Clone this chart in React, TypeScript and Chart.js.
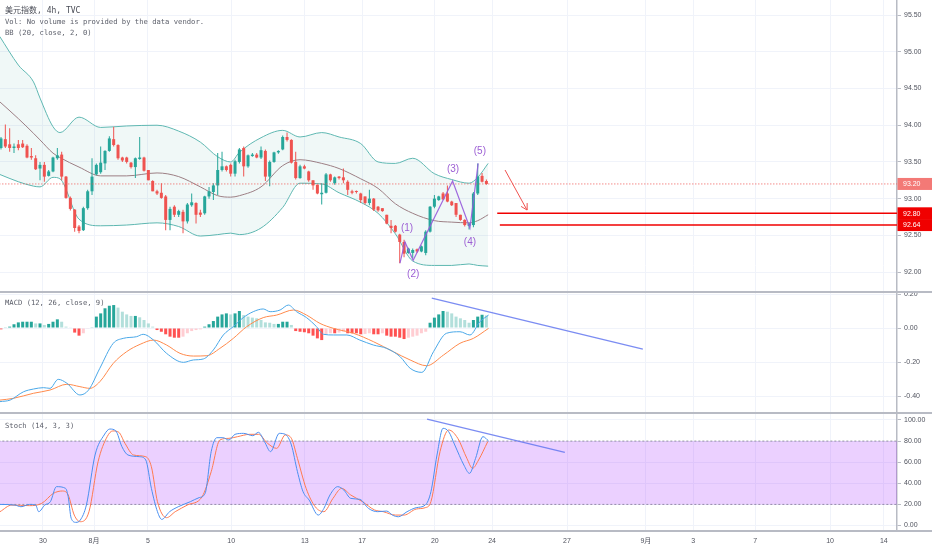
import React, { useEffect, useRef } from 'react';
import { Chart, registerables } from 'chart.js';
Chart.register(...registerables);

// ---------- x axis (bar index units, 4h bars) ----------
const xMin = -0.231;
const xMax = 206.74;
const xTickPos = [9.69, 21.46, 33.9, 53.1, 70.1, 83.3, 100.1, 113.3, 130.6, 148.8, 159.7, 174.0, 191.3, 203.7];
const xTickLabels = ['30', '8月', '5', '10', '13', '17', '20', '24', '27', '9月', '3', '7', '10', '14'];

// ---------- y ticks ----------
const priceTicks = [92, 92.5, 93, 93.5, 94, 94.5, 95, 95.5];
const macdTicks = [-0.4, -0.2, 0, 0.2];
const stochTicks = [0, 20, 40, 60, 80, 100];

// ---------- candles ----------
const opens = [93.69, 93.81, 93.74, 93.69, 93.74, 93.75, 93.72, 93.58, 93.55, 93.41,
  93.46, 93.31, 93.37, 93.55, 93.60, 93.30, 93.01, 92.85, 92.62, 92.57,
  92.87, 93.10, 93.33, 93.36, 93.48, 93.65, 93.81, 93.73, 93.56, 93.56,
  93.49, 93.43, 93.54, 93.56, 93.39, 93.24, 93.10, 93.08, 93.03, 92.71,
  92.89, 92.78, 92.82, 92.69, 92.91, 92.94, 92.81, 92.80, 93.03, 93.09,
  93.18, 93.39, 93.44, 93.46, 93.34, 93.50, 93.69, 93.44, 93.58, 93.60,
  93.56, 93.65, 93.30, 93.50, 93.63, 93.67, 93.84, 93.80, 93.50, 93.28,
  93.44, 93.37, 93.25, 93.19, 93.06, 93.08, 93.33, 93.21, 93.30, 93.29,
  93.23, 93.10, 93.10, 93.07, 93.03, 92.94, 93.00, 92.89, 92.87, 92.78,
  92.63, 92.63, 92.51, 92.41, 92.26, 92.26, 92.31, 92.28, 92.26, 92.55,
  92.89, 92.98, 93.07, 93.07, 92.96, 92.94, 92.78, 92.71, 92.63, 92.64,
  93.07, 93.31, 93.24];
const highs = [93.84, 94.01, 93.96, 93.75, 93.80, 93.80, 93.74, 93.69, 93.59, 93.50,
  93.50, 93.39, 93.57, 93.69, 93.64, 93.31, 93.03, 92.86, 92.64, 92.89,
  93.12, 93.55, 93.48, 93.71, 93.66, 93.85, 93.98, 93.74, 93.57, 93.57,
  93.50, 93.56, 93.84, 93.57, 93.39, 93.25, 93.12, 93.21, 93.05, 92.89,
  92.91, 92.85, 92.85, 92.94, 93.07, 92.95, 92.85, 93.04, 93.16, 93.21,
  93.62, 93.64, 93.45, 93.48, 93.53, 93.69, 93.71, 93.60, 93.62, 93.62,
  93.71, 93.67, 93.52, 93.64, 93.66, 93.86, 93.90, 93.81, 93.64, 93.46,
  93.46, 93.38, 93.25, 93.19, 93.21, 93.35, 93.34, 93.30, 93.31, 93.41,
  93.25, 93.12, 93.11, 93.08, 93.03, 93.12, 93.01, 92.90, 92.87, 92.78,
  92.71, 92.64, 92.52, 92.44, 92.33, 92.32, 92.32, 92.36, 92.57, 92.90,
  93.05, 93.04, 93.09, 93.18, 92.97, 92.94, 92.78, 92.72, 92.67, 93.09,
  93.48, 93.35, 93.26];
const lows = [93.67, 93.69, 93.64, 93.62, 93.66, 93.69, 93.55, 93.53, 93.39, 93.25,
  93.23, 93.30, 93.36, 93.53, 93.25, 93.00, 92.84, 92.55, 92.53, 92.56,
  92.85, 93.05, 93.32, 93.34, 93.39, 93.64, 93.71, 93.53, 93.50, 93.48,
  93.41, 93.28, 93.53, 93.37, 93.25, 93.10, 93.05, 93.00, 92.57, 92.57,
  92.75, 92.75, 92.53, 92.66, 92.89, 92.66, 92.75, 92.78, 93.00, 92.98,
  93.05, 93.37, 93.37, 93.30, 93.30, 93.48, 93.30, 93.42, 93.57, 93.55,
  93.54, 93.24, 93.17, 93.49, 93.61, 93.66, 93.78, 93.48, 93.26, 93.27,
  93.40, 93.23, 93.12, 93.06, 92.92, 93.07, 93.23, 93.19, 93.26, 93.21,
  93.05, 93.06, 93.07, 92.94, 92.92, 92.91, 92.83, 92.82, 92.82, 92.65,
  92.53, 92.54, 92.12, 92.20, 92.25, 92.19, 92.26, 92.27, 92.23, 92.54,
  92.87, 92.97, 92.98, 92.95, 92.90, 92.75, 92.70, 92.62, 92.58, 92.61,
  93.05, 93.22, 93.19];
const closes = [93.82, 93.71, 93.69, 93.71, 93.69, 93.70, 93.56, 93.56, 93.40, 93.46,
  93.30, 93.37, 93.56, 93.59, 93.30, 93.01, 92.86, 92.60, 92.56, 92.87,
  93.10, 93.30, 93.46, 93.49, 93.65, 93.82, 93.73, 93.55, 93.52, 93.50,
  93.43, 93.55, 93.56, 93.38, 93.25, 93.10, 93.07, 93.01, 92.71, 92.86,
  92.78, 92.83, 92.69, 92.92, 92.95, 92.78, 92.78, 93.03, 93.10, 93.18,
  93.39, 93.44, 93.39, 93.34, 93.51, 93.67, 93.44, 93.59, 93.60, 93.56,
  93.66, 93.30, 93.50, 93.63, 93.65, 93.84, 93.80, 93.49, 93.28, 93.44,
  93.41, 93.25, 93.18, 93.07, 93.08, 93.33, 93.25, 93.29, 93.28, 93.25,
  93.12, 93.08, 93.09, 92.98, 92.94, 93.00, 92.85, 92.84, 92.83, 92.66,
  92.60, 92.55, 92.41, 92.25, 92.32, 92.30, 92.28, 92.35, 92.55, 92.89,
  93.00, 93.03, 92.99, 92.96, 92.91, 92.78, 92.71, 92.64, 92.66, 93.07,
  93.30, 93.23, 93.20];

// ---------- Bollinger Bands (20, 2) ----------
const bbIdx = [-0.3, 4, 7.5, 9, 12, 13.6, 18, 23, 29, 36, 41, 46, 50, 53, 55, 60, 65, 69, 74, 78, 83, 87, 91, 95, 100, 104, 108, 110, 112.4];
const bbUpper = [95.21, 94.82, 94.59, 94.37, 93.98, 93.90, 94.11, 93.97, 93.99, 94.00, 93.92, 93.77, 93.57, 93.50, 93.63, 93.83, 93.93, 93.84, 93.90, 93.84, 93.75, 93.50, 93.48, 93.55, 93.34, 93.26, 93.21, 93.29, 93.48];
const bbBasis = [94.32, 94.09, 93.89, 93.80, 93.62, 93.56, 93.43, 93.31, 93.31, 93.35, 93.30, 93.16, 93.04, 93.02, 93.04, 93.16, 93.45, 93.53, 93.48, 93.41, 93.27, 93.14, 92.93, 92.80, 92.70, 92.68, 92.67, 92.70, 92.78];
const bbLower = [93.33, 93.23, 93.17, 93.16, 93.29, 93.27, 92.72, 92.63, 92.64, 92.67, 92.62, 92.49, 92.51, 92.53, 92.51, 92.60, 92.88, 93.21, 93.20, 93.08, 92.95, 92.80, 92.52, 92.15, 92.09, 92.09, 92.11, 92.09, 92.08];

// ---------- MACD (12, 26, 9) ----------
const macdHist = [-0.008, 0.002, 0.008, 0.022, 0.033, 0.037, 0.037, 0.037, 0.027, 0.027,
  0.018, 0.024, 0.037, 0.051, 0.037, 0.008, 0.002, -0.027, -0.045, -0.031,
  -0.004, 0.004, 0.067, 0.086, 0.116, 0.131, 0.135, 0.120, 0.096, 0.080,
  0.071, 0.071, 0.063, 0.047, 0.027, 0.008, -0.012, -0.022, -0.037, -0.051,
  -0.057, -0.057, -0.051, -0.031, -0.018, -0.012, -0.008, 0.008, 0.022, 0.041,
  0.067, 0.080, 0.086, 0.080, 0.086, 0.100, 0.076, 0.067, 0.061, 0.057,
  0.047, 0.033, 0.031, 0.024, 0.024, 0.037, 0.037, 0.018, -0.018, -0.022,
  -0.025, -0.031, -0.045, -0.061, -0.071, -0.037, -0.031, -0.031, -0.027, -0.022,
  -0.031, -0.031, -0.031, -0.037, -0.035, -0.031, -0.037, -0.037, -0.031, -0.045,
  -0.051, -0.051, -0.057, -0.065, -0.057, -0.051, -0.045, -0.031, -0.022, 0.031,
  0.061, 0.080, 0.100, 0.096, 0.086, 0.067, 0.057, 0.047, 0.031, 0.047,
  0.067, 0.078, 0.074];
const macdIdx = [-0.23, 2.1, 5.2, 7.5, 9.8, 11.3, 13.2, 15.2, 18.2, 20.2, 22.8, 25.9, 28.2, 31.3, 32.8, 35.2, 38.2, 42.1, 44.4, 46.7, 49.0, 51.3, 53.6, 55.9, 58.2, 60.5, 62.1, 64.4, 66.3, 68.2, 70.5, 72.8, 74.4, 76.7, 79.8, 82.8, 85.9, 89.0, 92.1, 94.4, 97.1, 99.8, 102.8, 105.9, 108.2, 110.5, 112.5];
const macdLine = [-0.433, -0.424, -0.375, -0.359, -0.351, -0.355, -0.302, -0.325, -0.394, -0.365, -0.237, -0.090, -0.061, -0.051, -0.037, -0.071, -0.149, -0.202, -0.188, -0.182, -0.129, -0.041, 0.008, 0.061, 0.096, 0.112, 0.096, 0.106, 0.135, 0.096, 0.061, 0.008, -0.037, -0.041, -0.041, -0.071, -0.100, -0.120, -0.169, -0.237, -0.261, -0.139, -0.031, -0.022, -0.041, 0.037, 0.076];
const sigIdx = [-0.23, 2.8, 7.5, 11.3, 15.2, 18.2, 20.5, 22.8, 25.9, 29.0, 32.1, 35.2, 38.2, 41.3, 44.4, 47.5, 50.5, 53.6, 56.7, 60.5, 63.6, 67.5, 70.5, 73.6, 76.7, 81.3, 85.9, 90.5, 94.4, 98.2, 102.1, 105.9, 109.0, 112.5];
const signalLine = [-0.424, -0.414, -0.384, -0.365, -0.331, -0.345, -0.355, -0.316, -0.208, -0.139, -0.096, -0.071, -0.100, -0.149, -0.165, -0.163, -0.120, -0.061, 0.008, 0.061, 0.076, 0.106, 0.076, 0.027, -0.002, -0.031, -0.080, -0.139, -0.188, -0.222, -0.159, -0.090, -0.061, -0.002];

// ---------- Stoch (14, 3, 3) ----------
const kIdx = [-0.23, 3.2, 4.6, 6.6, 8.0, 8.7, 10.1, 11.4, 12.8, 14.9, 15.5, 16.2, 17.3, 18.3, 19.7, 21.7, 23.8, 25.1, 26.5, 27.9, 29.3, 32.0, 33.4, 34.7, 36.1, 37.1, 38.9, 40.9, 43.7, 45.7, 47.1, 48.5, 49.8, 51.2, 52.6, 54.0, 56.0, 58.1, 59.4, 60.8, 62.2, 64.2, 65.6, 67.0, 68.4, 69.7, 71.1, 73.2, 74.5, 75.9, 77.7, 79.1, 80.7, 82.8, 84.8, 86.9, 89.0, 90.3, 91.7, 93.7, 95.8, 97.9, 99.2, 100.6, 102.0, 103.3, 104.7, 106.8, 108.1, 109.5, 111.2, 112.5];
const stochK = [20.0, 19.4, 17.8, 20.0, 19.4, 13.1, 19.4, 22.6, 36.8, 35.2, 27.3, 6.8, 3.0, 5.2, 19.4, 66.8, 85.8, 91.4, 89.6, 74.7, 66.8, 65.2, 62.1, 35.2, 13.1, 5.8, 13.1, 17.8, 22.6, 26.4, 30.5, 70.0, 83.2, 83.2, 81.0, 86.4, 87.3, 85.1, 88.3, 79.4, 70.0, 87.3, 86.4, 76.3, 51.0, 32.0, 24.1, 9.9, 16.2, 28.9, 36.8, 33.6, 25.7, 24.8, 16.2, 13.1, 13.7, 9.9, 8.3, 13.1, 16.9, 19.4, 32.0, 66.8, 92.1, 88.9, 76.3, 57.3, 49.4, 63.6, 84.2, 80.1];
const dIdx = [-0.23, 2.5, 6.6, 9.4, 12.1, 14.2, 15.5, 16.9, 18.3, 20.3, 22.4, 24.5, 25.8, 27.2, 28.6, 30.6, 33.4, 34.7, 36.1, 38.2, 40.2, 43.0, 46.4, 48.5, 50.5, 52.6, 54.6, 57.4, 59.4, 61.5, 63.6, 65.6, 67.0, 68.4, 70.4, 72.5, 74.5, 76.6, 78.6, 80.7, 83.4, 86.2, 88.2, 91.0, 93.0, 95.8, 97.9, 99.2, 101.3, 103.3, 105.4, 107.5, 108.8, 110.2, 112.3];
const stochD = [13.1, 19.4, 18.8, 21.0, 30.5, 32.7, 28.9, 9.9, 3.6, 13.1, 60.5, 84.2, 89.6, 88.3, 77.9, 66.8, 65.2, 55.7, 22.6, 7.4, 13.1, 19.4, 27.3, 51.0, 81.0, 82.6, 84.2, 86.4, 86.4, 77.9, 73.1, 85.8, 82.6, 63.6, 35.2, 17.8, 13.1, 25.7, 35.2, 28.9, 22.6, 14.7, 13.1, 9.9, 9.9, 15.6, 16.9, 22.6, 70.0, 90.5, 82.6, 63.6, 54.2, 62.1, 79.4];
const stochUpper = 80;
const stochLower = 20;

// ---------- drawings ----------
const waveIdx = [92.06, 93.2, 95.1, 104.2, 108.2, 110.1];
const wavePrice = [92.12, 92.41, 92.16, 93.24, 92.60, 93.48];
const waveLabels = ['(1)', '(2)', '(3)', '(4)', '(5)'];
const waveLabelIdx = [93.7, 95.1, 104.3, 108.2, 110.5];
const waveLabelPrice = [92.59, 91.97, 93.40, 92.41, 93.65];
const lastPrice = 93.20;
const targetLevels = [92.80, 92.64];
const targetStartIdx = [114.5, 115.1];
const arrowIdx = [116.3, 121.37];
const arrowPrice = [93.39, 92.845];
const arrowHeadIdx = [120.0, 121.37, 121.4];
const arrowHeadPrice = [92.894, 92.845, 92.94];
const macdTrendIdx = [99.4, 148.1];
const macdTrendVal = [0.176, -0.124];
const stochTrendIdx = [98.3, 130.1];
const stochTrendVal = [100.7, 69.4];

const titleText = '美元指数, 4h, TVC';
const volText = 'Vol: No volume is provided by the data vendor.';
const bbText = 'BB (20, close, 2, 0)';
const macdText = 'MACD (12, 26, close, 9)';
const stochText = 'Stoch (14, 3, 3)';

const UP = '#26a69a';
const DOWN = '#ef5350';
const GRID = '#f0f3fa';
const AXIS = '#b8bbc4';
const TEXT = '#50535e';
const AXIS_FONT = '"Liberation Sans", "Noto Sans CJK SC", sans-serif';
const MONO_FONT = '"DejaVu Sans Mono", "Noto Sans CJK SC", monospace';

const pts = (xs: number[], ys: number[]) => xs.map((x, i) => ({ x, y: ys[i] }));

const zeroPadding = (s: any) => {
  s.paddingTop = 0;
  s.paddingBottom = 0;
  s.paddingLeft = 0;
  s.paddingRight = 0;
};

function buildConfig(): any {
  const candleColors = closes.map((c, i) => (c >= opens[i] ? UP : DOWN));
  const histColors = macdHist.map((v, i) => {
    const p = i > 0 ? macdHist[i - 1] : v;
    if (v >= 0) return v >= p ? '#26a69a' : '#b2dfdb';
    return v <= p ? '#ff5252' : '#ffcdd2';
  });
  const line = (data: any[], color: string, yAxisID: string, order: number, extra: any = {}) => ({
    type: 'line', data, borderColor: color, borderWidth: 1, pointRadius: 0, yAxisID, order,
    fill: false, ...extra,
  });

  const datasets: any[] = [
    line(pts(waveIdx, wavePrice), 'rgba(150,90,220,0.9)', 'yPrice', 0, { borderWidth: 1.2 }),
    line(pts(arrowIdx, arrowPrice), '#ef5350', 'yPrice', 0),
    line(pts(arrowHeadIdx, arrowHeadPrice), '#ef5350', 'yPrice', 0),
    line([{ x: targetStartIdx[0], y: targetLevels[0] }, { x: xMax + 5, y: targetLevels[0] }], '#f00000', 'yPrice', 0, { borderWidth: 1.6 }),
    line([{ x: targetStartIdx[1], y: targetLevels[1] }, { x: xMax + 5, y: targetLevels[1] }], '#f00000', 'yPrice', 0, { borderWidth: 1.6 }),
    line([{ x: xMin - 5, y: lastPrice }, { x: xMax + 5, y: lastPrice }], '#ef5350', 'yPrice', 0, { borderDash: [1, 2] }),
    line(pts(macdTrendIdx, macdTrendVal), 'rgba(100,120,240,0.85)', 'yMacd', 0, { borderWidth: 1.3 }),
    line(pts(stochTrendIdx, stochTrendVal), 'rgba(100,120,240,0.85)', 'yStoch', 0, { borderWidth: 1.3 }),
    {
      type: 'bar', data: opens.map((o, i) => ({ x: i, y: [o, closes[i]] })), backgroundColor: candleColors,
      barThickness: 3, grouped: false, yAxisID: 'yPrice', order: 1, minBarLength: 1, inflateAmount: 0, borderWidth: 0,
    },
    {
      type: 'bar', data: lows.map((l, i) => ({ x: i, y: [l, highs[i]] })), backgroundColor: candleColors,
      barThickness: 1, grouped: false, yAxisID: 'yPrice', order: 2, inflateAmount: 0, borderWidth: 0,
    },
    line(pts(bbIdx, bbUpper), '#5fb8b2', 'yPrice', 3, { fill: '+2', backgroundColor: 'rgba(33,150,140,0.067)', cubicInterpolationMode: 'monotone' }),
    line(pts(bbIdx, bbBasis), '#a57d84', 'yPrice', 3, { cubicInterpolationMode: 'monotone' }),
    line(pts(bbIdx, bbLower), '#5fb8b2', 'yPrice', 3, { cubicInterpolationMode: 'monotone' }),
    {
      type: 'bar', data: macdHist.map((v, i) => ({ x: i, y: v })), backgroundColor: histColors,
      barThickness: 3, grouped: false, yAxisID: 'yMacd', order: 6, inflateAmount: 0, borderWidth: 0,
    },
    line(pts(macdIdx, macdLine), '#4aa8e8', 'yMacd', 4, { cubicInterpolationMode: 'monotone' }),
    line(pts(sigIdx, signalLine), '#ff8a4c', 'yMacd', 4, { cubicInterpolationMode: 'monotone' }),
    line(pts(kIdx, stochK), '#4a8ff0', 'yStoch', 4, { cubicInterpolationMode: 'monotone' }),
    line(pts(dIdx, stochD), '#ff7a50', 'yStoch', 4, { cubicInterpolationMode: 'monotone' }),
    line([{ x: xMin - 5, y: stochUpper }, { x: xMax + 5, y: stochUpper }], '#9598a1', 'yStoch', 8,
      { borderDash: [2, 2], fill: { value: stochLower }, backgroundColor: 'rgba(153,21,255,0.2)' }),
    line([{ x: xMin - 5, y: stochLower }, { x: xMax + 5, y: stochLower }], '#9598a1', 'yStoch', 8, { borderDash: [2, 2] }),
  ];

  const yCommon = (ticks: number[]) => ({
    type: 'linear', position: 'right', stack: 'panes', offset: false,
    grid: { color: GRID, tickColor: AXIS, tickLength: 4, drawTicks: true },
    border: { color: AXIS, width: 1.5 },
    ticks: {
      autoSkip: false, padding: 3, color: TEXT, font: { family: AXIS_FONT, size: 7 },
      callback: (v: any) => Number(v).toFixed(2),
    },
    afterBuildTicks: (s: any) => { s.ticks = ticks.map((v) => ({ value: v })); },
    afterFit: (s: any) => { s.width = 35; zeroPadding(s); },
  });

  const overlay = {
    id: 'overlay',
    afterDraw(chart: any) {
      const ctx = chart.ctx;
      const yP = chart.scales.yPrice, yM = chart.scales.yMacd, yS = chart.scales.yStoch;
      const xs = chart.scales.x;
      ctx.save();
      // pane separators
      ctx.strokeStyle = AXIS;
      ctx.lineWidth = 2;
      [yM.top, yS.top, yS.bottom].forEach((y: number) => {
        ctx.beginPath(); ctx.moveTo(0, y); ctx.lineTo(chart.width, y); ctx.stroke();
      });
      // legends
      ctx.textBaseline = 'middle';
      ctx.textAlign = 'left';
      ctx.fillStyle = '#4a4d57';
      ctx.font = '8px ' + MONO_FONT;
      ctx.fillText(titleText, 5, 11);
      ctx.fillStyle = '#5d606b';
      ctx.font = '7.2px ' + MONO_FONT;
      ctx.fillText(volText, 5, 22);
      ctx.fillText(bbText, 5, 33);
      ctx.fillText(macdText, 5, yM.top + 11);
      ctx.fillText(stochText, 5, yS.top + 13);
      // wave labels
      ctx.fillStyle = '#9c5fd4';
      ctx.font = '10px "Liberation Sans", sans-serif';
      ctx.textAlign = 'center';
      waveLabels.forEach((t, i) => {
        ctx.fillText(t, xs.getPixelForValue(waveLabelIdx[i]), yP.getPixelForValue(waveLabelPrice[i]));
      });
      // price boxes on the axis
      const boxes = [
        { v: lastPrice, c: 'rgba(239,83,80,0.78)' },
        { v: targetLevels[0], c: '#f00000' },
        { v: targetLevels[1], c: '#f00000' },
      ];
      ctx.textAlign = 'left';
      ctx.font = '7px ' + AXIS_FONT;
      boxes.forEach((b) => {
        const y = yP.getPixelForValue(b.v);
        ctx.fillStyle = b.c;
        ctx.fillRect(yP.left + 0.5, y - 6, chart.width - yP.left, 12);
        ctx.fillStyle = '#ffffff';
        ctx.fillText(b.v.toFixed(2), yP.left + 6, y + 0.5);
      });
      ctx.restore();
    },
  };

  return {
    type: 'bar',
    data: { datasets },
    options: {
      animation: false,
      responsive: false,
      maintainAspectRatio: false,
      events: [],
      layout: { padding: 0 },
      plugins: { legend: { display: false }, tooltip: { enabled: false } },
      scales: {
        x: {
          type: 'linear', min: xMin, max: xMax, offset: false,
          grid: { color: GRID, offset: false, drawTicks: false, tickLength: 0 },
          border: { display: false },
          ticks: {
            autoSkip: false, maxRotation: 0, padding: 6, color: TEXT, font: { family: AXIS_FONT, size: 7 },
            callback: (_v: any, i: number) => xTickLabels[i] ?? '',
          },
          afterBuildTicks: (s: any) => { s.ticks = xTickPos.map((v) => ({ value: v })); },
          afterFit: (s: any) => { s.height = 19; zeroPadding(s); },
        },
        yPrice: { ...yCommon(priceTicks), stackWeight: 292, min: 91.728, max: 95.706 },
        yMacd: { ...yCommon(macdTicks), stackWeight: 121, min: -0.5, max: 0.2118 },
        yStoch: { ...yCommon(stochTicks), stackWeight: 118, min: -5.2, max: 106.6 },
      },
    },
    plugins: [overlay],
  };
}

export default function App() {
  const ref = useRef<HTMLCanvasElement>(null);
  useEffect(() => {
    document.body.style.margin = '0';
    const chart = new Chart(ref.current as HTMLCanvasElement, buildConfig());
    return () => chart.destroy();
  }, []);
  return (
    <div style={{ position: 'fixed', left: 0, top: 0, width: 932, height: 550, background: '#ffffff' }}>
      <canvas ref={ref} width={932} height={550} style={{ width: '932px', height: '550px', display: 'block' }} />
    </div>
  );
}
